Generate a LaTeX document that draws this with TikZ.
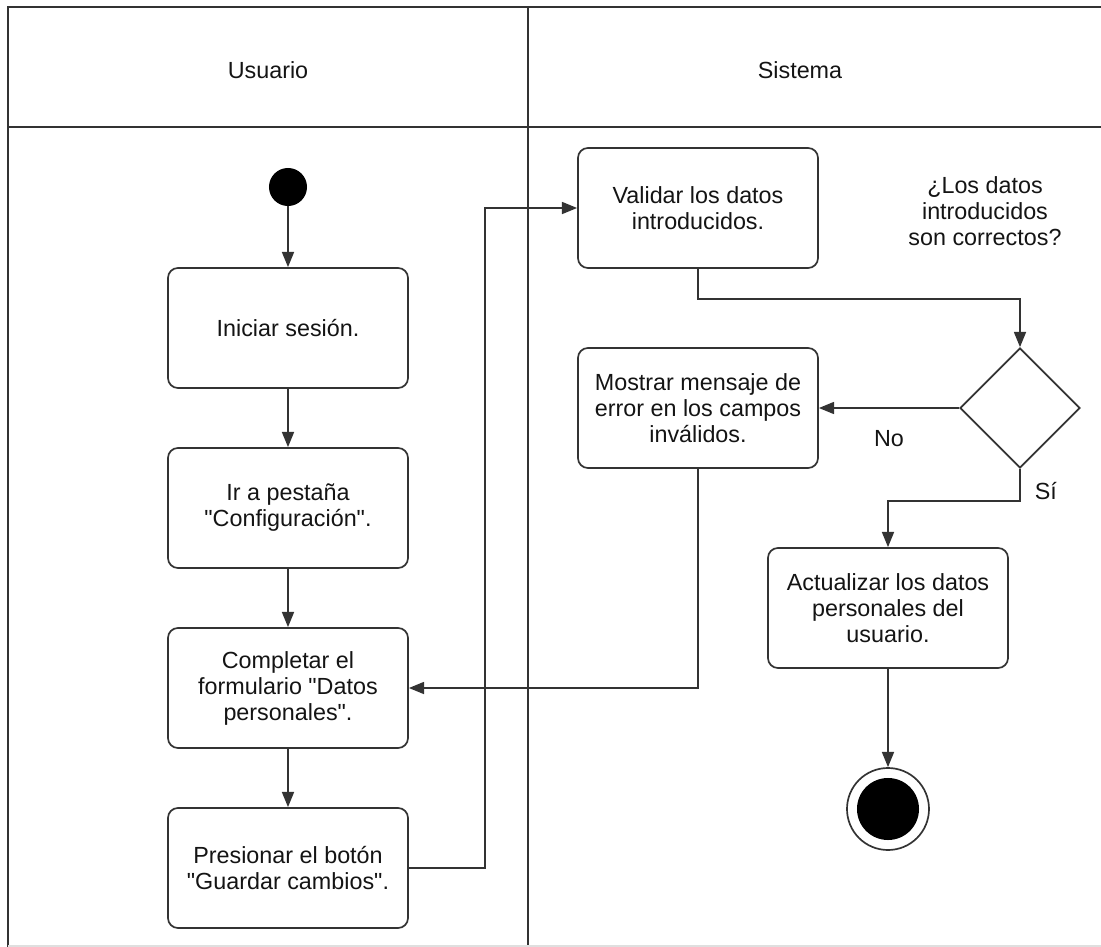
\documentclass[tikz,border=0pt]{standalone}
\usepackage{fontspec}
\setmainfont{Liberation Sans}[Ligatures=TeXOff]
\usetikzlibrary{arrows.meta,shapes.geometric}
\definecolor{cus-line}{RGB}{51,51,51}
\definecolor{cus-text}{RGB}{20,20,20}

\tikzset{
	lane/.style={draw=cus-line,line width=1.5pt},
	txt/.style={text=cus-text,align=center,inner sep=0pt,font=\fontsize{16.6}{18.5}\selectfont},
	act/.style={txt,draw=cus-line,line width=1.2pt,fill=white,rounded corners=0.25cm,minimum width=6cm,minimum height=3cm},
	decision/.style={diamond,draw=cus-line,line width=1.2pt,fill=white,minimum width=3cm,minimum height=3cm,inner sep=0pt},
	flow/.style={draw=cus-line,line width=1.2pt,-{Triangle[length=0.38cm,width=0.3cm]}},
}

\begin{document}
\begin{tikzpicture}[x=0.025cm,y=-0.025cm]
\useasboundingbox (0,0) rectangle (1101,947);
\draw[lane] (8,947) -- (8,7) -- (1101,7);
\draw[lane] (8,127) -- (1101,127);
\draw[lane] (528,7) -- (528,947);
\draw[gray!25,line width=1pt] (8,946) -- (1101,946);

\node[txt] (usr) at (268,70) {Usuario};
\node[txt] (sys) at (800,70) {Sistema};

\node[circle,fill=black,minimum size=0.95cm,inner sep=0pt] (start) at (288,187) {};
\node[act] (login) at (288,328) {Iniciar sesión.};
\node[act] (tab) at (288,508) {Ir a pestaña\\"Configuración".};
\node[act] (form) at (288,688) {Completar el\\formulario "Datos\\personales".};
\node[act] (save) at (288,868) {Presionar el botón\\"Guardar cambios".};

\node[act] (check) at (698,208) {Validar los datos\\introducidos.};
\node[txt] (ask) at (985,211) {¿Los datos\\introducidos\\son correctos?};
\node[decision] (dec) at (1020,408) {};
\node[act] (err) at (698,408) {Mostrar mensaje de\\error en los campos\\inválidos.};
\node[act] (upd) at (888,608) {Actualizar los datos\\personales del\\usuario.};
\node[circle,draw=cus-line,line width=1.2pt,fill=white,minimum size=2.05cm,inner sep=0pt] (stop) at (888,809) {};
\node[circle,fill=black,minimum size=1.55cm,inner sep=0pt] (stopin) at (stop) {};

\draw[flow] (start) -- (login);
\draw[flow] (login) -- (tab);
\draw[flow] (tab) -- (form);
\draw[flow] (form) -- (save);
\draw[flow] (save.east) -- ++(76,0) |- (check.west);
\draw[flow] (check.south) -- ++(0,30) -| (dec.north);
\draw[flow] (dec.west) -- node[txt,below=0.55cm] (no) {No} (err.east);
\draw[flow] (dec.south) -- node[txt,right=0.35cm,pos=0.7] (si) {Sí} ++(0,32) -| (upd.north);
\draw[flow] (err.south) |- (form.east);
\draw[flow] (upd) -- (stop);
\end{tikzpicture}
\end{document}
